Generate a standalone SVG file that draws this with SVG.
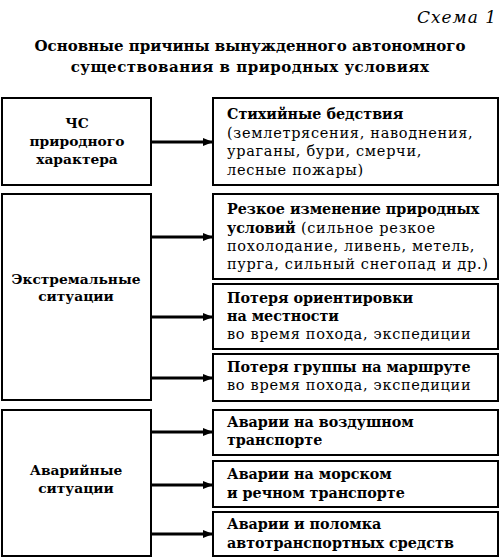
<svg xmlns="http://www.w3.org/2000/svg" width="500" height="559" viewBox="0 0 500 559">
<defs>
<marker id="ah" markerWidth="10" markerHeight="8" refX="9" refY="4" orient="auto" markerUnits="userSpaceOnUse">
<path d="M0,0 L10,4 L0,8 Z" fill="#000"/>
</marker>
<style>
.box{fill:#fff;stroke:#000;stroke-width:2}
.t{font-family:"DejaVu Serif","Liberation Serif",serif;font-size:14.5px;letter-spacing:0.7px;fill:#000}
.b{font-weight:bold;font-size:14.3px;letter-spacing:0}
.l{font-family:"DejaVu Serif","Liberation Serif",serif;font-size:13.8px;font-weight:bold;text-anchor:middle;fill:#000}
.ttl{font-family:"DejaVu Serif","Liberation Serif",serif;font-size:15px;font-weight:bold;text-anchor:middle;fill:#000}
.ar{stroke:#000;stroke-width:3;fill:none;marker-end:url(#ah)}
</style>
</defs>
<rect width="500" height="559" fill="#fff"/>
<text x="497" y="23" font-family="DejaVu Serif, Liberation Serif, serif" font-size="17" letter-spacing="1" font-style="italic" text-anchor="end">Схема 1</text>
<text class="ttl" x="250" y="51">Основные причины вынужденного автономного</text>
<text class="ttl" x="250" y="72" letter-spacing="0.5">существования в природных условиях</text>

<g id="left1"><rect class="box" x="2" y="98" width="149" height="87"/>
<text class="l" x="77" y="128">ЧС</text><text class="l" x="77" y="146">природного</text><text class="l" x="77" y="164">характера</text></g>
<g id="left2"><rect class="box" x="2" y="194" width="149" height="206"/>
<text class="l" x="76" y="284">Экстремальные</text><text class="l" x="76" y="301">ситуации</text></g>
<g id="left3"><rect class="box" x="2" y="410" width="149" height="146"/>
<text class="l" x="76" y="475">Аварийные</text><text class="l" x="76" y="493">ситуации</text></g>

<g id="r1"><rect class="box" x="213" y="98" width="285" height="87"/>
<text class="t b" x="227" y="119">Стихийные бедствия</text>
<text class="t" x="227" y="138">(землетрясения, наводнения,</text>
<text class="t" x="227" y="156">ураганы, бури, смерчи,</text>
<text class="t" x="227" y="175">лесные пожары)</text></g>
<g id="r2"><rect class="box" x="213" y="194" width="285" height="85"/>
<text class="t b" x="227" y="214">Резкое изменение природных</text>
<text class="t" x="227" y="233"><tspan class="b">условий</tspan> (сильное резкое</text>
<text class="t" x="227" y="251">похолодание, ливень, метель,</text>
<text class="t" x="227" y="269">пурга, сильный снегопад и др.)</text></g>
<g id="r3"><rect class="box" x="213" y="284" width="285" height="65"/>
<text class="t b" x="227" y="303">Потеря ориентировки</text>
<text class="t b" x="227" y="321">на местности</text>
<text class="t" x="227" y="339">во время похода, экспедиции</text></g>
<g id="r4"><rect class="box" x="213" y="354" width="285" height="47"/>
<text class="t b" x="227" y="372">Потеря группы на маршруте</text>
<text class="t" x="227" y="390">во время похода, экспедиции</text></g>
<g id="r5"><rect class="box" x="213" y="410" width="285" height="45"/>
<text class="t b" x="227" y="427">Аварии на воздушном</text>
<text class="t b" x="227" y="445">транспорте</text></g>
<g id="r6"><rect class="box" x="213" y="461" width="285" height="46"/>
<text class="t b" x="227" y="479">Аварии на морском</text>
<text class="t b" x="227" y="498">и речном транспорте</text></g>
<g id="r7"><rect class="box" x="213" y="512" width="285" height="44"/>
<text class="t b" x="227" y="529">Аварии и поломка</text>
<text class="t b" x="227" y="548">автотранспортных средств</text></g>

<g id="connectors">
<line class="ar" x1="151" y1="142" x2="212" y2="142"/>
<line class="ar" x1="151" y1="237" x2="212" y2="237"/>
<line class="ar" x1="151" y1="317" x2="212" y2="317"/>
<line class="ar" x1="151" y1="378" x2="212" y2="378"/>
<line class="ar" x1="151" y1="432" x2="212" y2="432"/>
<line class="ar" x1="151" y1="485" x2="212" y2="485"/>
<line class="ar" x1="151" y1="534" x2="212" y2="534"/>
</g>
</svg>
